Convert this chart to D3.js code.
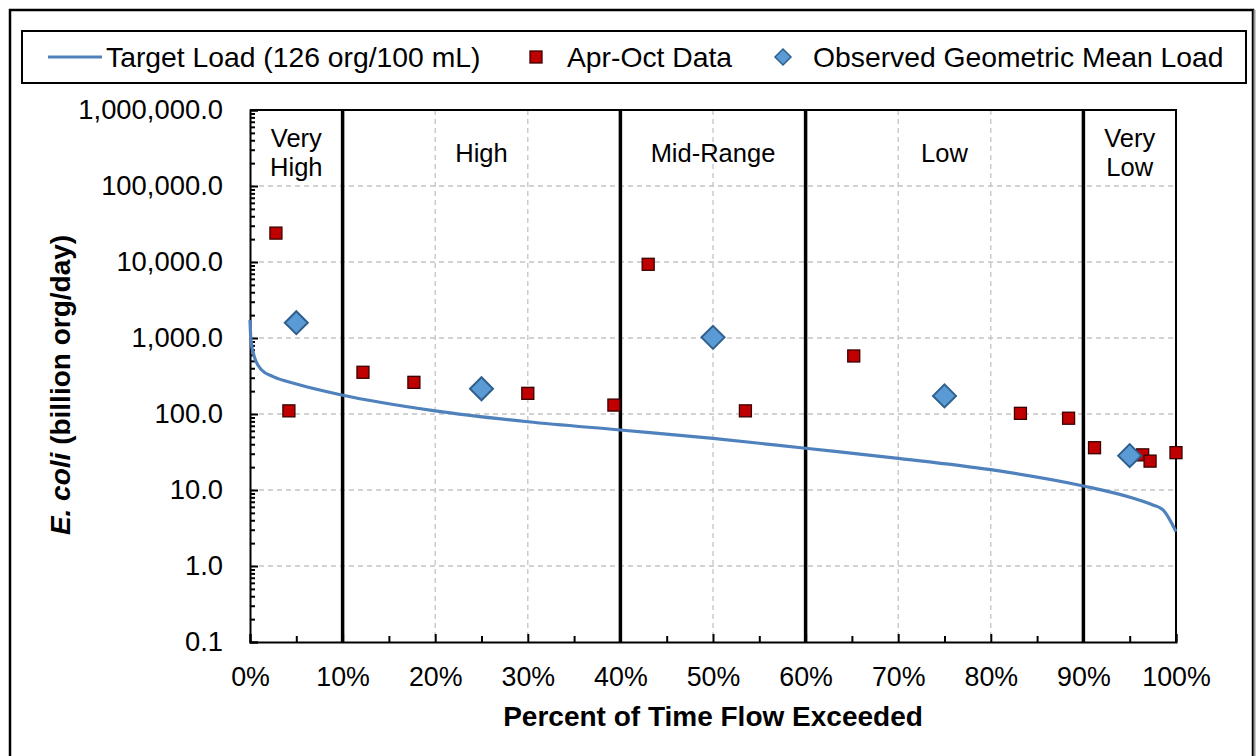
<!DOCTYPE html>
<html>
<head>
<meta charset="utf-8">
<script src="https://cdn.jsdelivr.net/npm/d3@7"></script>
<style>
  html, body { margin: 0; padding: 0; background: #fff; }
  svg { display: block; font-family: Arial, "Liberation Sans", sans-serif; }
</style>
</head>
<body>
<svg id="chart" width="1257" height="756"></svg>
<script>
// ---- data ----
const xTicks = [0, 10, 20, 30, 40, 50, 60, 70, 80, 90, 100];
const yTicks = [0.1, 1, 10, 100, 1000, 10000, 100000, 1000000];
const regimeBreaks = [0, 10, 40, 60, 90, 100];
const regimeNames = [["Very", "High"], ["High"], ["Mid-Range"], ["Low"], ["Very", "Low"]];

const targetPct  = [0, 0.1, 0.36, 1.26, 2.5, 5, 9.9, 20, 30, 40, 50, 60, 70, 80, 90, 95.4, 97.5, 98.6, 100];
const targetLoad = [1725, 942, 629, 379, 310, 248, 178, 110, 79, 61.6, 47.9, 35.4, 26.1, 18.5, 11.3, 7.78, 6.35, 5.46, 2.83];

const dataPct  = [2.8, 4.2, 12.2, 17.7, 30.0, 39.3, 43.0, 53.5, 65.2, 83.2, 88.4, 91.2, 96.4, 97.2, 100];
const dataLoad = [24000, 110, 354, 261, 187, 131, 9330, 110, 580, 102, 88, 36, 29, 24, 31];

const gmPct  = [5, 25, 50, 75, 95];
const gmLoad = [1590, 215, 1020, 173, 28.3];

const legendLabels = ["Target Load (126 org/100 mL)", "Apr-Oct Data", "Observed Geometric Mean Load"];

// ---- styles ----
const LINE_COLOR = "#4F81BD";
const SQ_FILL = "#C00000", SQ_STROKE = "#3a0000";
const DM_FILL = "#5B9BD5", DM_STROKE = "#2F5F8C";
const GRID = "#c4c4c4";

const svg = d3.select("#chart");
const L = 250, R = 1176, T = 110, B = 642;

const x = d3.scaleLinear().domain([0, 100]).range([L, R]);
const y = d3.scaleLog().domain([0.1, 1000000]).range([B, T]);

// outer frame
svg.append("rect").attr("x", 10).attr("y", 10).attr("width", 1243).attr("height", 800)
  .attr("fill", "none").attr("stroke", "#000").attr("stroke-width", 2.5);
svg.append("line").attr("x1", 1254.5).attr("x2", 1254.5).attr("y1", 10).attr("y2", 756)
  .attr("stroke", "#9a9a9a").attr("stroke-width", 2);

// legend box
svg.append("rect").attr("x", 22).attr("y", 31).attr("width", 1224).attr("height", 52)
  .attr("fill", "#fff").attr("stroke", "#000").attr("stroke-width", 2);
const lg = svg.append("g");
lg.append("line").attr("x1", 48).attr("x2", 102).attr("y1", 57).attr("y2", 57)
  .attr("stroke", LINE_COLOR).attr("stroke-width", 3);
lg.append("text").attr("x", 106).attr("y", 67).attr("font-size", 28.3).text(legendLabels[0]);
lg.append("rect").attr("x", 530).attr("y", 51).attr("width", 12).attr("height", 12)
  .attr("fill", SQ_FILL).attr("stroke", SQ_STROKE).attr("stroke-width", 1.3);
lg.append("text").attr("x", 567).attr("y", 67).attr("font-size", 28.3).text(legendLabels[1]);
lg.append("path").attr("d", "M783,49 L791,57 L783,65 L775,57 Z")
  .attr("fill", DM_FILL).attr("stroke", DM_STROKE).attr("stroke-width", 1.5);
lg.append("text").attr("x", 813).attr("y", 67).attr("font-size", 28.3).text(legendLabels[2]);

// grid
const grid = svg.append("g");
grid.selectAll("line.h").data(yTicks.filter(v => v > 0.1 && v < 1000000)).enter().append("line")
  .attr("x1", L).attr("x2", R).attr("y1", d => y(d)).attr("y2", d => y(d))
  .attr("stroke", GRID).attr("stroke-width", 1.3).attr("stroke-dasharray", "5,4");
grid.selectAll("line.v").data(xTicks.filter(v => v > 0 && v < 100 && !regimeBreaks.includes(v))).enter().append("line")
  .attr("x1", d => x(d)).attr("x2", d => x(d)).attr("y1", T).attr("y2", B)
  .attr("stroke", GRID).attr("stroke-width", 1.3).attr("stroke-dasharray", "5,4");

// regime dividers
svg.append("g").selectAll("line").data(regimeBreaks.slice(1, -1)).enter().append("line")
  .attr("x1", d => x(d)).attr("x2", d => x(d)).attr("y1", T).attr("y2", B)
  .attr("stroke", "#000").attr("stroke-width", 3.5);

// regime labels
const rl = svg.append("g").attr("font-size", 25.5).attr("text-anchor", "middle");
regimeNames.forEach((lines, i) => {
  const cx = x((regimeBreaks[i] + regimeBreaks[i + 1]) / 2);
  const t = rl.append("text").attr("x", cx);
  if (lines.length === 1) {
    t.attr("y", 162).text(lines[0]);
  } else {
    t.append("tspan").attr("x", cx).attr("y", 147).text(lines[0]);
    t.append("tspan").attr("x", cx).attr("y", 176).text(lines[1]);
  }
});

// plot border (top/right)
svg.append("path").attr("d", `M${L},${T} H${R} V${B}`).attr("fill", "none")
  .attr("stroke", "#000").attr("stroke-width", 2);

// axes
const minorY = [];
for (let e = -1; e < 6; e++) for (let m = 2; m <= 9; m++) minorY.push(m * Math.pow(10, e));
const yAxis = svg.append("g").attr("transform", `translate(${L},0)`)
  .call(d3.axisLeft(y).tickValues(yTicks).tickSize(-8).tickPadding(27).tickFormat(d3.format(",.1f")));
const yMinor = svg.append("g").attr("transform", `translate(${L},0)`)
  .call(d3.axisLeft(y).tickValues(minorY).tickSize(-5).tickFormat(""));
yMinor.select(".domain").remove();
yAxis.selectAll("text").attr("font-size", 27.4).attr("fill", "#000").attr("font-family", "Arial, 'Liberation Sans', sans-serif");

const minorX = d3.range(5, 100, 10);
const xAxis = svg.append("g").attr("transform", `translate(0,${B})`)
  .call(d3.axisBottom(x).tickValues(xTicks).tickSize(-8).tickPadding(25).tickFormat(d => d + "%"));
const xMinor = svg.append("g").attr("transform", `translate(0,${B})`)
  .call(d3.axisBottom(x).tickValues(minorX).tickSize(-6).tickFormat(""));
xMinor.select(".domain").remove();
xAxis.selectAll("text").attr("font-size", 26.8).attr("fill", "#000").attr("font-family", "Arial, 'Liberation Sans', sans-serif");

[yAxis, yMinor, xAxis, xMinor].forEach(g => {
  g.selectAll(".domain").attr("stroke", "#000").attr("stroke-width", 2);
  g.selectAll(".tick line").attr("stroke", "#000").attr("stroke-width", 2);
});

// axis titles
svg.append("text").attr("x", (L + R) / 2).attr("y", 726).attr("text-anchor", "middle")
  .attr("font-size", 28).attr("font-weight", "bold").text("Percent of Time Flow Exceeded");
const yt = svg.append("text").attr("transform", "translate(70,385) rotate(-90)")
  .attr("text-anchor", "middle").attr("font-size", 28).attr("font-weight", "bold");
yt.append("tspan").attr("font-style", "italic").text("E. coli");
yt.append("tspan").text(" (billion org/day)");

// target line
const line = d3.line().x(d => x(d[0])).y(d => y(d[1])).curve(d3.curveMonotoneX);
svg.append("path").datum(targetPct.map((p, i) => [p, targetLoad[i]]))
  .attr("d", line).attr("fill", "none").attr("stroke", LINE_COLOR).attr("stroke-width", 3.2);

// data squares
svg.append("g").selectAll("rect").data(dataPct.map((p, i) => [p, dataLoad[i]])).enter().append("rect")
  .attr("x", d => x(d[0]) - 6).attr("y", d => y(d[1]) - 6).attr("width", 12).attr("height", 12)
  .attr("fill", SQ_FILL).attr("stroke", SQ_STROKE).attr("stroke-width", 1.3);

// geomean diamonds
svg.append("g").selectAll("path").data(gmPct.map((p, i) => [p, gmLoad[i]])).enter().append("path")
  .attr("d", d => { const cx = x(d[0]), cy = y(d[1]), r = 11.5;
    return `M${cx},${cy - r} L${cx + r},${cy} L${cx},${cy + r} L${cx - r},${cy} Z`; })
  .attr("fill", DM_FILL).attr("stroke", DM_STROKE).attr("stroke-width", 2);
</script>
</body>
</html>
